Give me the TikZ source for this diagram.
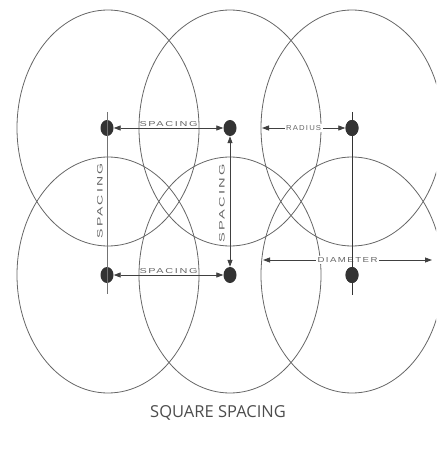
\documentclass[tikz,border=0pt]{standalone}
\usepackage{fontspec}
\setsansfont{Open Sans}
\newfontfamily\lblfont[LetterSpace=15]{Liberation Sans}
\usetikzlibrary{arrows.meta,shapes.geometric}
% squeezed dimension text: width, height, text
\newcommand{\dimtext}[3]{\resizebox{#1}{#2}{\lblfont #3}}
\begin{document}
\begin{tikzpicture}[x=1pt,y=-1pt,
  ring/.style={draw=black!60,line width=0.8pt},
  dot/.style={ellipse,fill=black!80,minimum width=13pt,minimum height=16pt,inner sep=0pt},
  dim/.style={draw=black!75,line width=0.8pt,
    {Triangle[length=7pt,width=5pt]}-{Triangle[length=7pt,width=5pt]}},
  dimlabel/.style={text=black!60,inner sep=1.5pt}]
  \useasboundingbox (0,0) rectangle (436,457);
  % coverage circles
  \begin{scope}
    \clip (0,0) rectangle (436,457);
    \foreach \cx in {108,230,352}
      \foreach \cy in {128,275}
        \draw[ring] (\cx,\cy) ellipse (91 and 118);
  \end{scope}
  % sprinkler heads
  \node[dot] (tl) at (107,128) {};
  \node[dot] (tm) at (230,128) {};
  \node[dot] (tr) at (352,128) {};
  \node[dot] (bl) at (107,275) {};
  \node[dot] (bm) at (230,275) {};
  \node[dot] (br) at (352,275) {};
  % end points of free lines
  \coordinate (ltop) at (107,112);
  \coordinate (lbot) at (107,294);
  \coordinate (rtop) at (352,112);
  \coordinate (rbot) at (352,295);
  \coordinate (radl) at (262,128);
  \coordinate (dial) at (263,260);
  \coordinate (diar) at (432,260);
  % left column line
  \draw[black!55,line width=0.6pt] (ltop) -- (lbot);
  \node[dimlabel,rotate=90] (lsp) at (100,201) {\dimtext{75pt}{5.5pt}{SPACING}};
  % spacing arrows
  \draw[dim] (tl) -- (tm) node[midway,above,dimlabel] (tsp) {\dimtext{58pt}{5pt}{SPACING}};
  \draw[dim] (bl) -- (bm) node[midway,above,dimlabel] (bsp) {\dimtext{58pt}{5pt}{SPACING}};
  \draw[dim] (tm) -- (bm);
  \node[dimlabel,rotate=90] (msp) at (222,203) {\dimtext{78pt}{5.5pt}{SPACING}};
  % radius and diameter
  \draw[dim] (radl) -- (tr) node[midway,fill=white,dimlabel] (rad) {\dimtext{35pt}{5pt}{RADIUS}};
  \draw[dim] (dial) -- (diar) node[midway,fill=white,dimlabel] (dia) {\dimtext{60pt}{5pt}{DIAMETER}};
  % right column line
  \draw[black!80,line width=1pt] (rtop) -- (rbot);
  \node[dot] at (tr) {};
  \node[dot] at (br) {};
  % title
  \node[font=\sffamily\fontsize{16.5}{16.5}\selectfont,text=black!70] (title) at (218,413) {SQUARE SPACING};
\end{tikzpicture}
\end{document}
